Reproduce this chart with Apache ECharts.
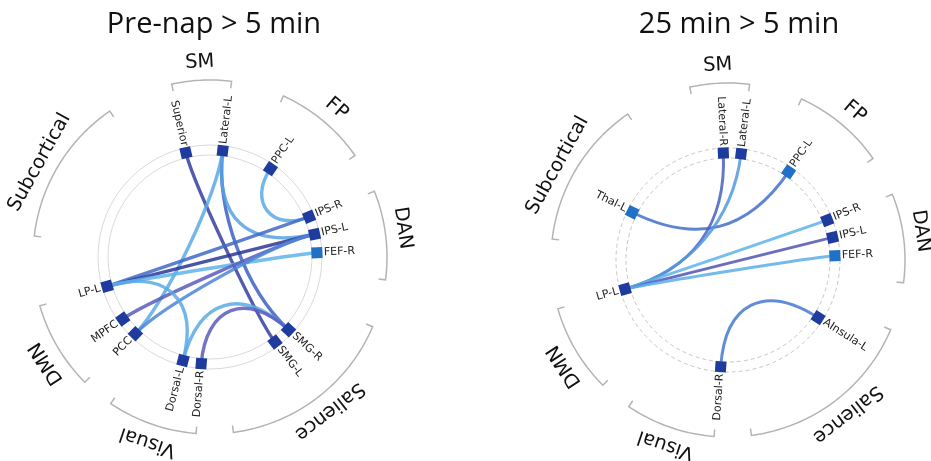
<!DOCTYPE html>
<html><head><meta charset="utf-8">
<script src="https://cdn.jsdelivr.net/npm/echarts@6/dist/echarts.min.js"></script>
<style>html,body{margin:0;padding:0;background:#fff}#c{width:931px;height:461px}</style>
</head><body><div id="c"></div>
<script>
// ---------------- DATA ----------------
const titles = ['Pre-nap > 5 min', '25 min > 5 min'];

const groupNames = ['SM', 'FP', 'DAN', 'Salience', 'Visual', 'DMN', 'Subcortical'];
const groupStart = [83, 35, -7.4, 277.6, 235.9, 196, 124.5];
const groupEnd   = [102.5, 65.5, 21.8, 336.8, 265.5, 225, 173.2];
const groupLabelAngle = [93, 49.5, 8.5, 307.8, 251.4, 213.0, 151.0];

// left panel: Pre-nap > 5 min
const leftNodeNames  = ['Superior', 'Lateral-L', 'PPC-L', 'IPS-R', 'IPS-L', 'FEF-R', 'SMG-R', 'SMG-L', 'Dorsal-R', 'Dorsal-L', 'PCC', 'MPFC', 'LP-L'];
const leftNodeAngles = [103.0, 83.2, 55.6, 22.1, 12.3, 2.3, 317.2, 307.4, 265.3, 255.4, 225.8, 215.4, 195.9];
const leftNodeTone   = [1, 1, 1, 1, 1, 0, 1, 1, 1, 1, 1, 1, 1];
const leftEdgeFrom   = ['Superior', 'Lateral-L', 'Lateral-L', 'Lateral-L', 'PPC-L', 'LP-L', 'LP-L', 'LP-L', 'MPFC', 'PCC', 'Dorsal-L', 'Dorsal-L', 'Dorsal-R'];
const leftEdgeTo     = ['SMG-L', 'SMG-R', 'PCC', 'IPS-L', 'IPS-R', 'IPS-R', 'IPS-L', 'FEF-R', 'IPS-L', 'IPS-L', 'LP-L', 'SMG-R', 'SMG-R'];
const leftEdgeValue  = [0.95, 0.5, 0.05, 0.1, 0.05, 0.45, 1.0, 0.0, 0.75, 0.25, 0.05, 0.05, 0.75];

// right panel: 25 min > 5 min
const rightNodeNames  = ['Lateral-R', 'Lateral-L', 'PPC-L', 'Thal-L', 'IPS-R', 'IPS-L', 'FEF-R', 'LP-L', 'AInsula-L', 'Dorsal-R'];
const rightNodeAngles = [92.5, 83.0, 55.5, 153.5, 21.9, 12.2, 2.3, 195.8, 327.4, 266.1];
const rightNodeTone   = [1, 1, 0, 0, 1, 1, 0, 1, 1, 1];
const rightEdgeFrom   = ['Thal-L', 'Lateral-R', 'Lateral-L', 'LP-L', 'LP-L', 'LP-L', 'Dorsal-R'];
const rightEdgeTo     = ['PPC-L', 'LP-L', 'LP-L', 'IPS-R', 'IPS-L', 'FEF-R', 'AInsula-L'];
const rightEdgeValue  = [0.4, 0.6, 0.15, 0.0, 0.8, 0.02, 0.35];

// ---------------- LAYOUT / STYLE ----------------
const NODE_R = 107, RING_IN = 102, RING_OUT = 112, ARC_R = 177, TICK = 7, GROUP_LABEL_R = 195, NODE_LABEL_R = 114;
const NODE_COLORS = ['#1f70c6', '#1f3b9e'];
const FONT = '"DejaVu Sans", sans-serif';

const panels = [
  {center: [210, 257], names: leftNodeNames, angles: leftNodeAngles, tone: leftNodeTone,
   from: leftEdgeFrom, to: leftEdgeTo, val: leftEdgeValue, dashed: false, titleX: 209},
  {center: [728, 260], names: rightNodeNames, angles: rightNodeAngles, tone: rightNodeTone,
   from: rightEdgeFrom, to: rightEdgeTo, val: rightEdgeValue, dashed: true, titleX: 734}
];

const chart = echarts.init(document.getElementById('c'));
const dist = (a, b) => Math.hypot(a[0] - b[0], a[1] - b[1]);
const norm = a => ((a % 360) + 360) % 360;

const polar = [], angleAxis = [], radiusAxis = [], series = [], title = [];
const edgeSeriesIdx = [];

panels.forEach((P, pi) => {
  polar.push({center: P.center, radius: 200});
  angleAxis.push({polarIndex: pi, type: 'value', min: 0, max: 360, startAngle: 0, clockwise: false,
    axisLine: {show: false}, axisTick: {show: false}, axisLabel: {show: false}, splitLine: {show: false}});
  radiusAxis.push({polarIndex: pi, type: 'value', min: 0, max: 200,
    axisLine: {show: false}, axisTick: {show: false}, axisLabel: {show: false}, splitLine: {show: false}});
  title.push({text: titles[pi], left: P.titleX, top: 5, textAlign: 'center',
    textStyle: {fontFamily: '"Open Sans", sans-serif', fontSize: 29, fontWeight: 'normal', color: '#111'}});

  // rings
  series.push({
    type: 'custom', coordinateSystem: 'polar', polarIndex: pi, silent: true,
    data: [[0, 0]],
    renderItem: (params, api) => {
      const c = api.coord([0, 0]);
      const mk = rr => ({type: 'circle', shape: {cx: c[0], cy: c[1], r: dist(c, api.coord([rr, 0]))},
        style: P.dashed ? {fill: null, stroke: '#b9b9b9', lineWidth: 0.8, lineDash: [4, 3]}
                        : {fill: null, stroke: '#dadada', lineWidth: 1}});
      return {type: 'group', children: [mk(RING_IN), mk(RING_OUT)]};
    }
  });

  // edges
  const edgeData = P.from.map((f, i) => [P.angles[P.names.indexOf(f)], P.angles[P.names.indexOf(P.to[i])], P.val[i]]);
  edgeSeriesIdx.push(series.length);
  series.push({
    type: 'custom', coordinateSystem: 'polar', polarIndex: pi, silent: true,
    data: edgeData,
    renderItem: (params, api) => {
      const a1 = api.value(0), a2 = api.value(1);
      const p1 = api.coord([NODE_R, a1]), p2 = api.coord([NODE_R, a2]), c = api.coord([0, 0]);
      let d = Math.abs(norm(a1) - norm(a2)); if (d > 180) d = 360 - d;
      const k = 0.68 * Math.sin(d * Math.PI / 180);
      return {type: 'bezierCurve', shape: {
          x1: p1[0], y1: p1[1], x2: p2[0], y2: p2[1],
          cpx1: p1[0] + (c[0] - p1[0]) * k, cpy1: p1[1] + (c[1] - p1[1]) * k,
          cpx2: p2[0] + (c[0] - p2[0]) * k, cpy2: p2[1] + (c[1] - p2[1]) * k},
        style: {fill: null, stroke: api.visual('color'), lineWidth: pi === 0 ? 3.4 : 3.0, opacity: 0.85}};
    }
  });

  // nodes
  series.push({
    type: 'custom', coordinateSystem: 'polar', polarIndex: pi, silent: true,
    data: P.angles.map((a, i) => [a, P.tone[i]]),
    renderItem: (params, api) => {
      const a = norm(api.value(0));
      const p = api.coord([NODE_R, a]);
      const lp = api.coord([NODE_LABEL_R, a]);
      let rot = a, align = 'left';
      if (a > 90 && a < 270) { rot = a - 180; align = 'right'; }
      return {type: 'group', children: [
        {type: 'rect', x: p[0], y: p[1], rotation: a * Math.PI / 180,
         shape: {x: -5.5, y: -5.5, width: 11, height: 11}, style: {fill: NODE_COLORS[api.value(1)]}},
        {type: 'text', x: lp[0], y: lp[1], rotation: rot * Math.PI / 180,
         style: {text: P.names[params.dataIndex], fill: '#222', font: '11px ' + FONT,
                 align: align, verticalAlign: 'middle', textAlign: align, textVerticalAlign: 'middle'}}
      ]};
    }
  });

  // groups
  series.push({
    type: 'custom', coordinateSystem: 'polar', polarIndex: pi, silent: true,
    data: groupNames.map((g, i) => [groupStart[i], groupEnd[i], groupLabelAngle[i]]),
    renderItem: (params, api) => {
      const s = api.value(0), e = api.value(1), la = api.value(2);
      const pts = [api.coord([ARC_R - TICK, s])];
      const n = Math.ceil(e - s);
      for (let j = 0; j <= n; j++) pts.push(api.coord([ARC_R, s + (e - s) * j / n]));
      pts.push(api.coord([ARC_R - TICK, e]));
      const lp = api.coord([GROUP_LABEL_R, la]);
      return {type: 'group', children: [
        {type: 'polyline', shape: {points: pts}, style: {fill: null, stroke: '#b4b4b4', lineWidth: 1.5}},
        {type: 'text', x: lp[0], y: lp[1], rotation: (la - 90) * Math.PI / 180,
         style: {text: groupNames[params.dataIndex], fill: '#111', font: '19.5px ' + FONT,
                 align: 'center', verticalAlign: 'middle', textAlign: 'center', textVerticalAlign: 'middle'}}
      ]};
    }
  });
});

chart.setOption({
  animation: false,
  backgroundColor: '#fff',
  title: title,
  polar: polar,
  angleAxis: angleAxis,
  radiusAxis: radiusAxis,
  visualMap: {type: 'continuous', show: false, min: 0, max: 1, dimension: 2, seriesIndex: edgeSeriesIdx,
    inRange: {color: ['#5db3ea', '#4c86d8', '#3c62c4', '#5a5cbc', '#2c3796']}},
  series: series
});
</script></body></html>
